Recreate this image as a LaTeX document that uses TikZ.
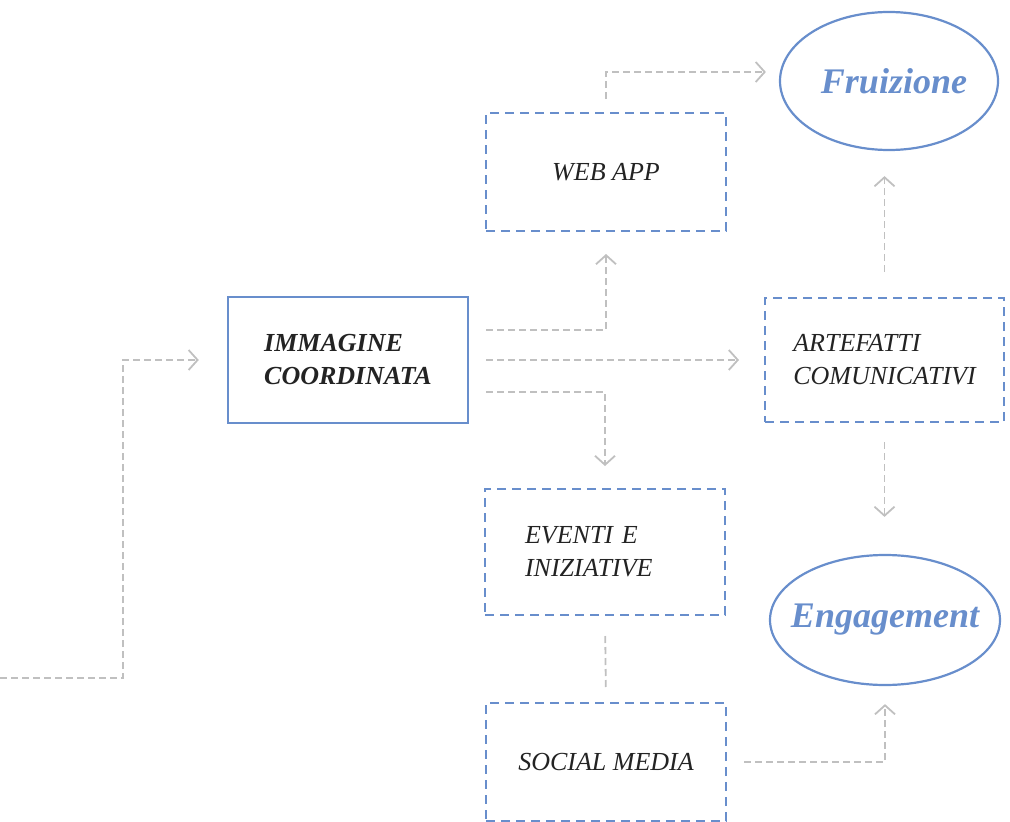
\documentclass[tikz,border=0pt]{standalone}
\usepackage{fontspec}
\setmainfont{Liberation Serif}
\usetikzlibrary{arrows.meta,shapes.geometric}
\definecolor{bl}{RGB}{104,142,204}
\definecolor{gr}{RGB}{192,192,192}
\definecolor{tx}{RGB}{35,35,35}
\tikzset{
  txt/.style={font=\fontsize{26}{33}\selectfont\itshape, text=tx, align=left},
  solidbox/.style={draw=bl, line width=2.4pt, minimum width=240pt, minimum height=126pt, inner sep=0pt, txt},
  dbox/.style={draw=bl, line width=2pt, dash pattern=on 9pt off 6pt, minimum width=240pt, inner sep=0pt, txt},
  oval/.style={ellipse, draw=bl, line width=2.2pt, inner xsep=-25pt, inner ysep=-10pt, text=bl, font=\fontsize{36}{40}\selectfont\bfseries\itshape},
  conn/.style={draw=gr, line width=1.8pt, dash pattern=on 7pt off 4pt},
  tip/.style={-{Straight Barb[length=9pt,width=20pt,line width=1.8pt]}}
}
\begin{document}
\begin{tikzpicture}[x=1pt,y=-1pt]
\useasboundingbox (0,0) rectangle (1010,822);
\node[solidbox] (imm) at (348,360) {\bfseries IMMAGINE\\\bfseries COORDINATA};
\node[dbox, minimum height=118pt] (web) at (606,172) {WEB APP};
\node[dbox, minimum height=124pt, minimum width=239pt] (art) at (884.5,360) {ARTEFATTI\\COMUNICATIVI};
\node[dbox, minimum height=126pt, text width=160pt, inner xsep=40pt] (ev) at (605,552) {EVENTI E\\INIZIATIVE};
\node[dbox, minimum height=118pt] (soc) at (606,762) {SOCIAL MEDIA};
\node[oval, minimum width=218pt, minimum height=138pt] (fru) at (889,81) {\hspace*{10pt}Fruizione};
\node[oval, minimum width=230pt, minimum height=130pt] (eng) at (885,620) {Engagement};
\coordinate (src) at (0,678);
\coordinate (bend) at (123,678);
\draw[conn,tip,shorten >=28pt] (src) -- (bend) |- (imm.west);
\draw[conn,tip,shorten <=17pt,shorten >=22pt] ([yshift=30pt]imm.east) -| (web.south);
\draw[conn,tip,shorten <=17pt,shorten >=25pt] (imm.east) -- (art.west);
\draw[conn,tip,shorten <=17pt,shorten >=22pt] ([yshift=-32pt]imm.east) -| (ev.north);
\draw[conn,tip,shorten <=13pt,shorten >=13pt] (web.north) |- ([yshift=9pt]fru.west);
\draw[conn,tip,shorten <=25pt,shorten >=25pt] (art.north) -- (art.north |- fru.south);
\draw[conn,tip,shorten <=19pt,shorten >=37pt] (art.south) -- (art.south |- eng.north);
\draw[conn,shorten <=20pt,shorten >=13pt] (ev.south) -- (soc.north);
\draw[conn,tip,shorten <=17pt,shorten >=18pt] (soc.east) -| (eng.south);
\end{tikzpicture}
\end{document}
